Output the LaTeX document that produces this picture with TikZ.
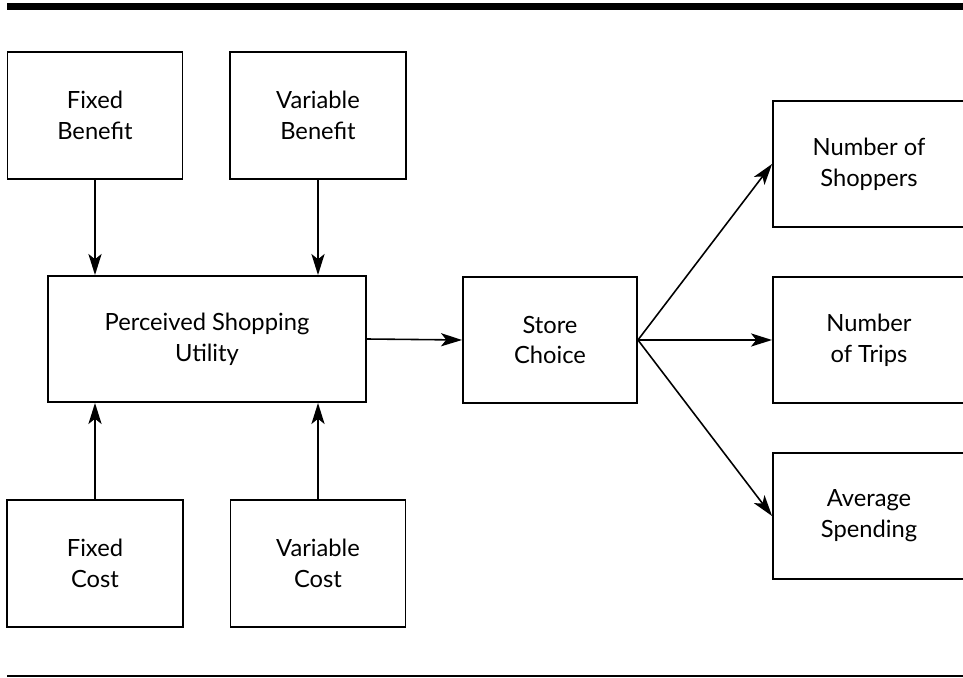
\documentclass[tikz,border=0pt]{standalone}
\usepackage{fontspec}
\setmainfont{Lato}
\usetikzlibrary{arrows.meta}

\begin{document}
\begin{tikzpicture}[x=0.02cm,y=-0.02cm]

\tikzset{boite/.style={draw,line width=1.1pt,align=center,inner sep=0pt,
    minimum width=3.5cm,minimum height=2.54cm,
    font=\fontsize{13.5}{17.5}\selectfont}} %style des cases
\tikzset{fleche/.style={line width=0.9pt,-{Stealth[length=12pt,width=7.5pt,inset=3pt]}}}

	\clip (0,0) rectangle (963,678);

	%filets haut et bas
	\draw [line width=3.6pt] (7,6.5) -- (975,6.5);
	\draw [line width=1.7pt] (7,676) -- (975,676);

	%------------colonne de gauche------------
	\node[boite] (fb) at (95,115.5) {Fixed\\Benefit};
	\node[boite,minimum width=3.52cm] (vb) at (318,115.5) {Variable\\Benefit};

	\node[boite,minimum width=6.36cm,minimum height=2.52cm] (psu) at (207,339) {Perceived Shopping\\Utility};

	\node[boite,minimum width=3.52cm] (fc) at (95,563.5) {Fixed\\Cost};
	\node[boite] (vc) at (318,563.5) {Variable\\Cost};

	%------------choix du magasin------------
	\node[boite,minimum width=3.48cm,minimum height=2.52cm] (sc) at (550,340) {Store\\Choice};

	%------------cases de droite (coupees au bord)------------
	\node[boite,minimum width=3.84cm,minimum height=2.52cm] (ns) at (869,164) {Number of\\Shoppers};
	\node[boite,minimum width=3.84cm,minimum height=2.52cm] (nt) at (869,340) {Number\\of Trips};
	\node[boite,minimum width=3.84cm,minimum height=2.52cm] (as) at (869,516) {Average\\Spending};

	%fleches verticales
	\draw [fleche] (fb.south) -- (fb.south |- psu.north);
	\draw [fleche] (vb.south) -- (vb.south |- psu.north);
	\draw [fleche] (fc.north) -- (fc.north |- psu.south);
	\draw [fleche] (vc.north) -- (vc.north |- psu.south);

	%fleches horizontales
	\draw [fleche] (psu.east) -- (sc.west);
	\draw [fleche] (sc.east) -- (ns.west);
	\draw [fleche] (sc.east) -- (nt.west);
	\draw [fleche] (sc.east) -- (as.west);

\end{tikzpicture}
\end{document}
